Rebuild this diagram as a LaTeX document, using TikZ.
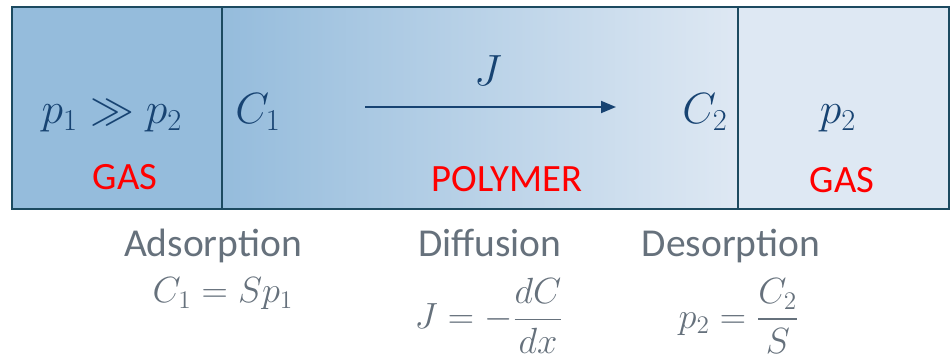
\documentclass[tikz,border=0pt]{standalone}
\usepackage{amsmath,amssymb}
\usepackage{fontspec}
\setmainfont{Carlito}
\usetikzlibrary{arrows.meta,positioning}
\definecolor{frameTeal}{HTML}{1C4A60}
\definecolor{gasDeep}{HTML}{95BCDC}
\definecolor{gasPale}{HTML}{DEE8F3}
\definecolor{symBlue}{HTML}{174372}
\definecolor{labRed}{HTML}{FF0000}
\definecolor{capGrey}{HTML}{66717C}
\tikzset{
  >={Triangle[length=3mm,width=2.4mm]},
  region/.style={draw=frameTeal, line width=1.3pt},
  sym/.style={text=symBlue, font=\fontsize{24.5}{28}\selectfont, inner sep=0pt, anchor=base},
  phase/.style={text=labRed, font=\fontsize{22}{26}\selectfont, inner sep=0pt, anchor=base},
  stage/.style={text=capGrey, font=\fontsize{22.5}{27}\selectfont, inner sep=0pt, anchor=base},
  law/.style={text=capGrey, font=\fontsize{22}{26}\selectfont, inner sep=0pt},
  flux/.style={->, draw=symBlue, line width=1.1pt},
}

\begin{document}
\begin{tikzpicture}[x=0.02cm,y=-0.02cm]
  \useasboundingbox (0,0) rectangle (951,358);
  % the three regions
  \fill[gasDeep] (12,7) rectangle (222,209);
  \shade[left color=gasDeep, right color=gasPale] (222,7) rectangle (738,209);
  \fill[gasPale] (738,7) rectangle (949,209);
  \draw[region] (12,7) rectangle (949,209);
  \draw[region] (222,7) -- (222,209);
  \draw[region] (738,7) -- (738,209);
  % symbols inside
  \node[sym] (pp) at (112,124) {$p_1 \gg p_2$};
  \node[sym] (c1) at (258,124) {$C_1$};
  \node[sym] (c2) at (705,124) {$C_2$};
  \node[sym] (p2) at (838,124) {$p_2$};
  \node[sym] (j) at (488,86) {$J$};
  \coordinate (jstart) at (365,107);
  \coordinate (jend) at (616,107);
  \draw[flux] (jstart) -- (jend);
  % phase labels
  \node[phase] (gasl) at (125,190) {GAS};
  \node[phase] (poly) at (507,192) {POLYMER};
  \node[phase] (gasr) at (842,193) {GAS};
  % stages below
  \node[stage] (ads) at (213,256) {Adsorption};
  \node[stage] (dif) at (490,256) {Diffusion};
  \node[stage] (des) at (731,256) {Desorption};
  \node[law] (adslaw) at (223,294) {$C_1 = Sp_1$};
  \node[law] (diflaw) at (489,316) {$J = -\dfrac{dC}{dx}$};
  \node[law] (deslaw) at (739,316) {$p_2 = \dfrac{C_2}{S}$};
\end{tikzpicture}
\end{document}
